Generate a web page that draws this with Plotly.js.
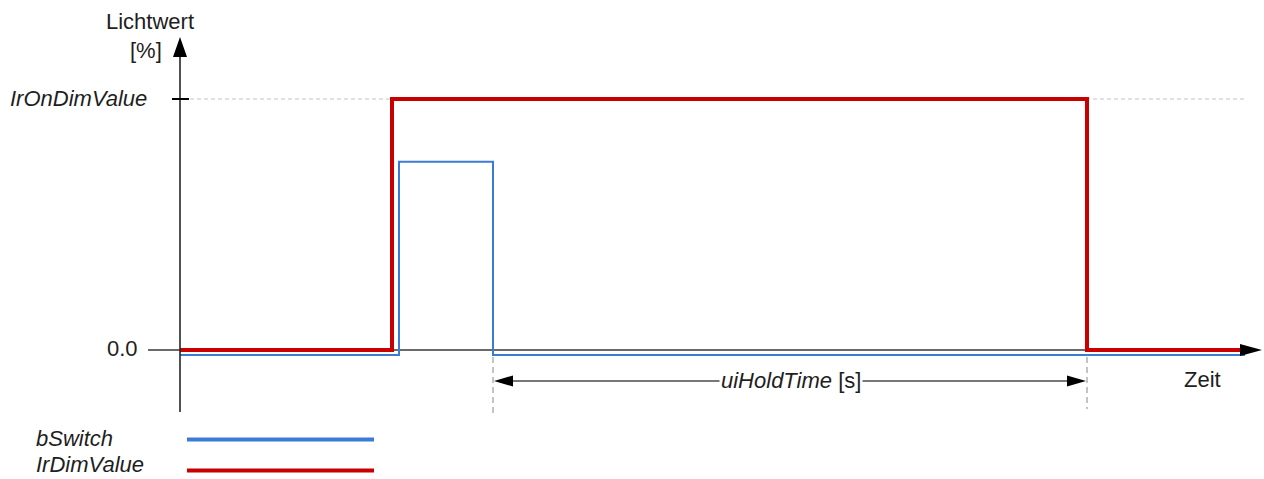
<!DOCTYPE html>
<html><head><meta charset="utf-8">
<script src="https://cdn.plot.ly/plotly-3.0.1.min.js"></script>
<style>html,body{margin:0;padding:0;background:#fff}</style>
</head><body><div id="chart" style="width:1264px;height:479px"></div>
<script>
// ---- data ----
const timeDim = [0, 21.2, 90.7, 106.5];
const valueDim = [0, 100, 0, 0];
const timeSwitch = [0, 21.9, 31.3, 106.5];
const valueSwitch = [-2, 75, -2, -2];
const seriesNames = ['bSwitch', 'IrDimValue'];
const seriesColors = ['#3a7bd5', '#c80000'];
const yTickValues = [0, 100];
const yTickLabels = ['0.0', 'IrOnDimValue'];
const yTitleLines = ['Lichtwert', '[%]'];
const xTitle = 'Zeit';
const holdLabel = 'uiHoldTime';
const holdUnit = '[s]';

// ---- layout helpers (pixel -> data) ----
const W = 1264, H = 479;
const X = px => (px - 180) / 10;
const Y = py => (350 - py) / 2.51;
const PX = x => x * 10 + 180;
const PY = y => 350 - y * 2.51;
const FONT = '"Liberation Sans", Arial, sans-serif';
const TXT = '#1e1e1e';
const FS = 22;

const traces = [
  {x: timeSwitch, y: valueSwitch, name: seriesNames[0], mode: 'lines',
   line: {shape: 'hv', color: seriesColors[0], width: 2}, hoverinfo: 'skip'},
  {x: timeDim, y: valueDim, name: seriesNames[1], mode: 'lines',
   line: {shape: 'hv', color: seriesColors[1], width: 4}, hoverinfo: 'skip'}
];

function tri(tipx, tipy, dir, len, half) {
  let pts;
  if (dir === 'up') pts = [[tipx, tipy], [tipx - half, tipy + len], [tipx + half, tipy + len]];
  else if (dir === 'right') pts = [[tipx, tipy], [tipx - len, tipy - half], [tipx - len, tipy + half]];
  else pts = [[tipx, tipy], [tipx + len, tipy - half], [tipx + len, tipy + half]];
  return 'M' + pts.map(p => X(p[0]) + ',' + Y(p[1])).join(' L') + ' Z';
}

const y100 = PY(yTickValues[1]);
const y0 = PY(yTickValues[0]);
const blueFall = PX(timeSwitch[2]);
const redFall = PX(timeDim[2]);
const holdY = 381;

const shapes = [
  // y axis
  {type: 'line', x0: 0, x1: 0, y0: Y(412), y1: Y(52), line: {color: '#262626', width: 1.6}},
  {type: 'path', path: tri(180, 37, 'up', 20, 7), fillcolor: '#000', line: {width: 0}},
  // x axis
  {type: 'line', x0: X(148), x1: X(1245), y0: 0, y1: 0, line: {color: '#6a6a6a', width: 2}, layer: 'below'},
  {type: 'path', path: tri(1262, y0, 'right', 22, 6), fillcolor: '#000', line: {width: 0}},
  // tick + reference line at IrOnDimValue
  {type: 'line', x0: X(172), x1: X(189), y0: yTickValues[1], y1: yTickValues[1], line: {color: '#000', width: 2}},
  {type: 'line', x0: X(190), x1: X(1245), y0: yTickValues[1], y1: yTickValues[1], line: {color: '#c4c4c4', width: 1, dash: '4px,3px'}, layer: 'below'},
  // vertical dashed markers
  {type: 'line', x0: timeSwitch[2], x1: timeSwitch[2], y0: Y(357), y1: Y(416), line: {color: '#8a8a8a', width: 1, dash: '6px,4px'}},
  {type: 'line', x0: timeDim[2], x1: timeDim[2], y0: Y(357), y1: Y(409), line: {color: '#8a8a8a', width: 1, dash: '6px,4px'}},
  // hold time arrow
  {type: 'line', x0: X(blueFall + 10), x1: X(redFall - 10), y0: Y(holdY), y1: Y(holdY), line: {color: '#4a4a4a', width: 1.3}},
  {type: 'path', path: tri(blueFall + 1, holdY, 'left', 19, 5.5), fillcolor: '#000', line: {width: 0}},
  {type: 'path', path: tri(redFall - 1, holdY, 'right', 19, 5.5), fillcolor: '#000', line: {width: 0}},
  // legend lines
  {type: 'line', xref: 'paper', yref: 'paper', x0: 187 / W, x1: 374 / W, y0: 1 - 439.5 / H, y1: 1 - 439.5 / H, line: {color: seriesColors[0], width: 4}},
  {type: 'line', xref: 'paper', yref: 'paper', x0: 187 / W, x1: 374 / W, y0: 1 - 470.5 / H, y1: 1 - 470.5 / H, line: {color: seriesColors[1], width: 4}}
];

const fnt = (ital) => ({family: FONT, size: FS, color: TXT, style: ital ? 'italic' : 'normal'});
const ann = (text, px, py, xanchor, ital, extra) => Object.assign({
  text: text, x: X(px), y: Y(py), xref: 'x', yref: 'y', showarrow: false,
  xanchor: xanchor, yanchor: 'middle', font: fnt(ital)
}, extra || {});

const annotations = [
  ann(yTitleLines[0], 149.5, 21, 'center', false),
  ann(yTitleLines[1], 164, 50, 'right', false),
  ann(yTickLabels[1], 149, y100 - 1, 'right', true),
  ann(yTickLabels[0], 140, y0 - 2, 'right', false),
  ann(xTitle, 1202, 379, 'center', false),
  ann('<i>' + holdLabel + '</i> ' + holdUnit, 791, holdY - 1, 'center', false, {bgcolor: '#fff', borderpad: 1}),
  {text: seriesNames[0], xref: 'paper', yref: 'paper', x: 34 / W, y: 1 - 438 / H, xanchor: 'left', yanchor: 'middle', showarrow: false, font: fnt(true)},
  {text: seriesNames[1], xref: 'paper', yref: 'paper', x: 34 / W, y: 1 - 464 / H, xanchor: 'left', yanchor: 'middle', showarrow: false, font: fnt(true)}
];

const layout = {
  width: W, height: H,
  margin: {l: 0, r: 0, t: 0, b: 0, pad: 0},
  paper_bgcolor: '#fff', plot_bgcolor: 'rgba(0,0,0,0)',
  showlegend: false,
  xaxis: {range: [X(0), X(W)], visible: false, fixedrange: true},
  yaxis: {range: [Y(H), Y(0)], visible: false, fixedrange: true},
  shapes: shapes,
  annotations: annotations
};

Plotly.newPlot('chart', traces, layout, {displayModeBar: false, staticPlot: true});
</script>
</body></html>
